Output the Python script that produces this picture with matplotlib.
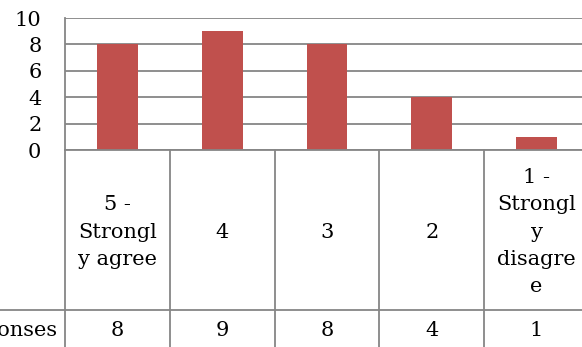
import matplotlib
matplotlib.use("Agg")
import matplotlib.pyplot as plt
import matplotlib.transforms as mtransforms

categories = ["5 -\nStrongl\ny agree", "4", "3", "2", "1 -\nStrongl\ny\ndisagre\ne"]
values = [8, 9, 8, 4, 1]
series_name = "Responses"
yticks = [0, 2, 4, 6, 8, 10]

W, H = 582, 347
fig = plt.figure(figsize=(W / 100, H / 100), dpi=100)
plt.rcParams['font.family'] = ['DejaVu Serif']
FS = 15

left_px, right_px, top_px, bot_px = 65, 589, 18, 150
ax = fig.add_axes([left_px / W, 1 - bot_px / H, (right_px - left_px) / W, (bot_px - top_px) / H])
n = len(categories)
x = list(range(n))
ax.bar(x, values, width=0.39, color="#C0504D", zorder=3)
ax.set_xlim(-0.5, n - 0.5)
ax.set_ylim(0, 10)
ax.set_yticks(yticks)
ax.set_yticklabels([str(t) for t in yticks], fontsize=FS)
ax.tick_params(axis='y', length=0, pad=17)
ax.set_xticks([])
for s in ["top", "right", "bottom"]:
    ax.spines[s].set_visible(False)
ax.spines["left"].set_color("#868686")
ax.spines["left"].set_linewidth(1.3)
ax.yaxis.grid(True, color="#868686", linewidth=1.3, zorder=0)
ax.set_axisbelow(True)

# data table below plot
trans = mtransforms.blended_transform_factory(ax.transData, ax.transAxes)
ph = bot_px - top_px
y_hdr_bot = -(310 - bot_px) / ph
y_bottom = -(360 - bot_px) / ph
lc = "#868686"
lw = 1.3
ax.plot([-0.5, n - 0.5], [0, 0], transform=trans, color=lc, lw=lw, clip_on=False, zorder=4)
ax.plot([-0.5 - 1.0, n - 0.5], [y_hdr_bot, y_hdr_bot], transform=trans, color=lc, lw=lw, clip_on=False)
for i in range(n + 1):
    ax.plot([i - 0.5, i - 0.5], [0, y_bottom], transform=trans, color=lc, lw=lw, clip_on=False)
for i, c in enumerate(categories):
    ax.text(i, -(232 - bot_px) / ph, c, transform=trans, ha="center", va="center",
            fontsize=FS, linespacing=1.55)
    ax.text(i, -(330 - bot_px) / ph, str(values[i]), transform=trans, ha="center", va="center", fontsize=FS)
fig.text(58 / W, 1 - 330 / H, series_name, ha="right", va="center", fontsize=FS)

fig.savefig("out.png", dpi=100)
